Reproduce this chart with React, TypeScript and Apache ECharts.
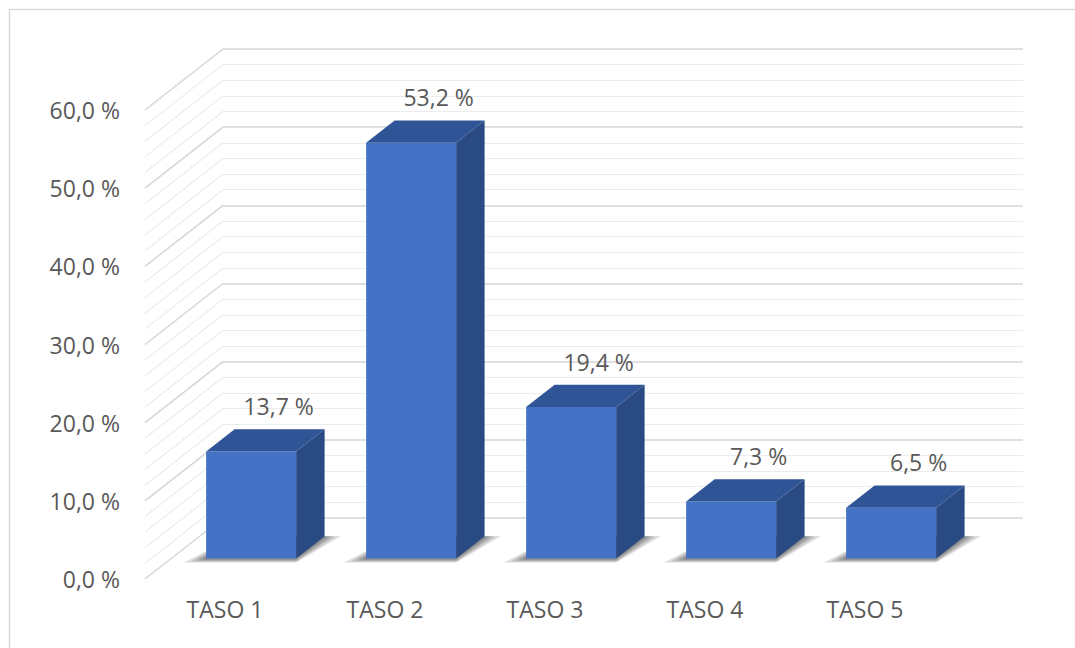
import React, { useEffect, useRef } from 'react';
import * as echarts from 'echarts';

const categories = ['TASO 1', 'TASO 2', 'TASO 3', 'TASO 4', 'TASO 5'];
const values = [13.7, 53.2, 19.4, 7.3, 6.5];
const yMin = 0;
const yMax = 60;
const yMajor = 10;
const yMinor = 2;

const FONT = '"Open Sans", sans-serif';
const FONT_SIZE = 23;
const TEXT = '#595959';
const FRONT = '#4472C4';
const TOP = '#2F5597';
const SIDE = '#2A4A84';
const MAJOR = '#d6d6d6';
const MINOR = '#ececec';

// oblique projection of the depth axis
const WALL_DX = 78;
const WALL_DY = -61;
const D1 = 0.335;
const D2 = 0.7;
const BAR_W = 90;

const fmt = (v: number) => v.toFixed(1).replace('.', ',') + ' %';

const wallTicks: number[] = [];
for (let v = yMin; v <= yMax + 1e-9; v += yMinor) wallTicks.push(Math.round(v * 10) / 10);

export default function App() {
  const ref = useRef<HTMLDivElement>(null);
  useEffect(() => {
    if (!ref.current) return;
    const chart = echarts.init(ref.current, undefined, { renderer: 'svg' });
    const gridW = 800;
    const gridH = 469;
    const option: any = {
      animation: false,
      backgroundColor: '#ffffff',
      textStyle: { fontFamily: FONT },
      graphic: [
        {
          type: 'rect',
          shape: { x: 9.5, y: 9.5, width: 1080, height: 660 },
          style: { fill: 'none', stroke: '#d9d9d9', lineWidth: 1.5 },
          silent: true,
          z: -10,
        },
      ],
      grid: [
        { left: 145, top: 110, width: gridW, height: gridH },
        { left: 145 + WALL_DX, top: 110 + WALL_DY, width: gridW, height: gridH },
      ],
      xAxis: [
        {
          type: 'category',
          gridIndex: 0,
          data: categories,
          axisLine: { show: false },
          axisTick: { show: false },
          splitLine: { show: false },
          axisLabel: { color: TEXT, fontSize: FONT_SIZE, fontFamily: FONT, margin: 18 },
        },
        { type: 'value', gridIndex: 1, show: false, min: 0, max: 1 },
      ],
      yAxis: [
        {
          type: 'value',
          gridIndex: 0,
          min: yMin,
          max: yMax,
          interval: yMajor,
          axisLine: { show: false },
          axisTick: { show: false },
          splitLine: { show: false },
          axisLabel: { color: TEXT, fontSize: FONT_SIZE, fontFamily: FONT, margin: 25, formatter: (v: number) => fmt(v) },
        },
        {
          type: 'value',
          gridIndex: 1,
          min: yMin,
          max: yMax,
          interval: yMajor,
          axisLine: { show: false },
          axisTick: { show: false },
          axisLabel: { show: false },
          splitLine: { show: true, lineStyle: { color: MAJOR, width: 1.5 } },
          minorTick: { show: false, splitNumber: yMajor / yMinor },
          minorSplitLine: { show: true, lineStyle: { color: MINOR, width: 1.2 } },
        },
      ],
      series: [
        {
          type: 'custom',
          xAxisIndex: 0,
          yAxisIndex: 0,
          silent: true,
          clip: false,
          z: 1,
          data: wallTicks.map((v) => [0, v]),
          renderItem: (params: any, api: any) => {
            const v = api.value(1);
            const y = api.coord([0, v])[1];
            const x0 = params.coordSys.x;
            const major = Math.abs(v % yMajor) < 1e-6;
            return {
              type: 'line',
              shape: { x1: x0, y1: y, x2: x0 + WALL_DX, y2: y + WALL_DY },
              style: { stroke: major ? MAJOR : MINOR, lineWidth: major ? 1.5 : 1.2 },
            };
          },
        },
        {
          type: 'custom',
          xAxisIndex: 0,
          yAxisIndex: 0,
          clip: false,
          z: 5,
          data: values.map((v, i) => [i, v]),
          renderItem: (params: any, api: any) => {
            const i = api.value(0);
            const v = api.value(1);
            const base = api.coord([i, 0]);
            const top = api.coord([i, v]);
            const hw = BAR_W / 2;
            const fx = base[0] + WALL_DX * D1;
            const fyB = base[1] + WALL_DY * D1;
            const fyT = top[1] + WALL_DY * D1;
            const ddx = WALL_DX * (D2 - D1);
            const ddy = WALL_DY * (D2 - D1);
            const L = fx - hw;
            const R = fx + hw;
            const shadows = [
              [22, 16, 4],
              [15, 11, 3],
              [9, 7, 2],
              [4, 3, 1],
            ].map(([el, er, eb]) => ({
              type: 'polygon',
              shape: {
                points: [
                  [L - el, fyB + eb],
                  [R, fyB + eb],
                  [R + ddx + er, fyB + ddy],
                  [L + ddx, fyB + ddy],
                ],
              },
              style: { fill: 'rgba(0,0,0,0.14)' },
            }));
            return {
              type: 'group',
              children: [
                ...shadows,
                {
                  type: 'rect',
                  shape: { x: L, y: fyT, width: BAR_W, height: fyB - fyT },
                  style: { fill: FRONT },
                },
                {
                  type: 'polygon',
                  shape: { points: [[L, fyT], [R, fyT], [R + ddx, fyT + ddy], [L + ddx, fyT + ddy]] },
                  style: { fill: TOP },
                },
                {
                  type: 'polygon',
                  shape: { points: [[R, fyT], [R + ddx, fyT + ddy], [R + ddx, fyB + ddy], [R, fyB]] },
                  style: { fill: SIDE },
                },
                {
                  type: 'text',
                  x: fx + ddx - 1,
                  y: fyT + ddy - 23,
                  style: {
                    text: fmt(v),
                    fill: TEXT,
                    fontSize: FONT_SIZE,
                    fontFamily: FONT,
                    align: 'center',
                    verticalAlign: 'middle',
                  },
                },
              ],
            };
          },
        },
      ],
    };
    chart.setOption(option);
    return () => chart.dispose();
  }, []);
  return (
    <div
      ref={ref}
      style={{ position: 'absolute', left: 0, top: 0, width: 1075, height: 648 }}
    />
  );
}
